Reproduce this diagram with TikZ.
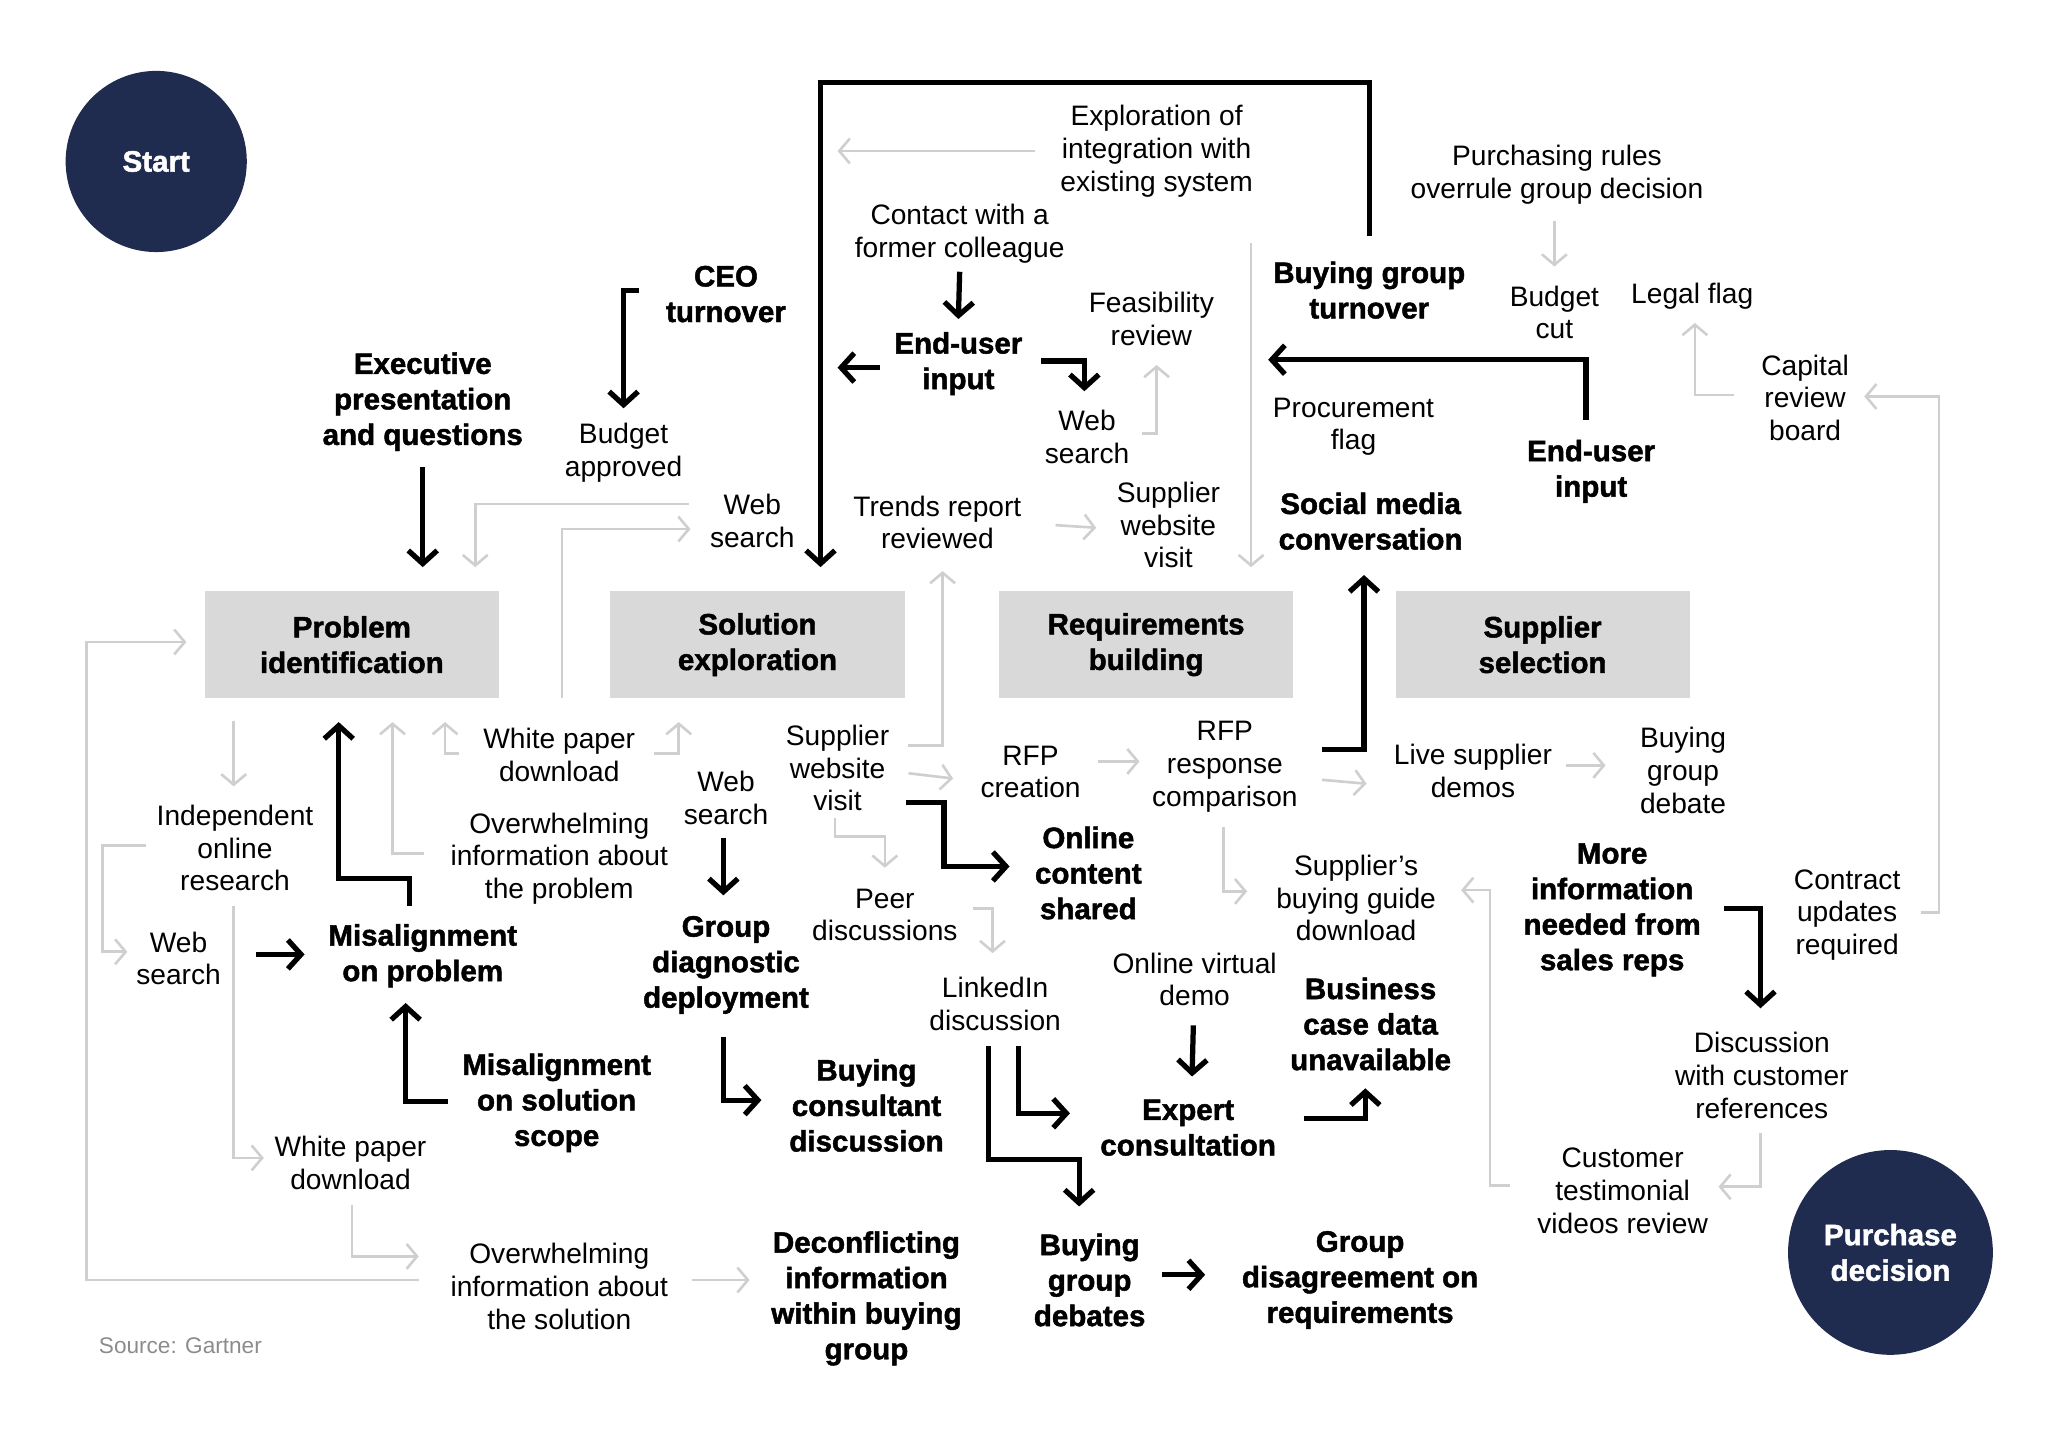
\documentclass[tikz,border=0pt]{standalone}
\usepackage{fontspec}
\setmainfont{Liberation Sans}[BoldFeatures={FakeBold=1.6}]
\usetikzlibrary{calc,positioning,arrows.meta}
\definecolor{navy}{HTML}{1F2C4F}
\definecolor{boxgray}{HTML}{D9D9D9}
\definecolor{linegray}{HTML}{CFCFCF}
\definecolor{srcgray}{HTML}{8C8C8C}
\newcommand\txtreg{\fontsize{12.2}{14.2}\selectfont}
\newcommand\txtbold{\fontsize{12.8}{15.4}\selectfont\bfseries}
\tikzset{
  note/.style={font=\txtreg, align=center, inner sep=0pt},
  event/.style={font=\txtbold, align=center, inner sep=0pt},
  stage/.style={fill=boxgray, minimum width=44.8mm, minimum height=16.4mm, font=\txtbold, align=center},
  terminal/.style={circle, fill=navy, text=white, font=\txtbold, align=center, inner sep=0pt},
  blk/.style={line width=0.8mm, line join=miter, -{Straight Barb[length=2mm,width=4.4mm]}},
  gry/.style={draw=linegray, line width=0.4mm, -{Straight Barb[length=1.6mm,width=3.8mm]}}
}
\begin{document}
\begin{tikzpicture}[x=0.2mm,y=-0.2mm]
\useasboundingbox (0,0) rectangle (1560,1088);
% start and end of the journey
\node[terminal, minimum size=27.6mm] (start) at (119,123) {Start};
\node[terminal, minimum size=31.2mm] (purch) at (1440,954) {Purchase\\decision};
% the four stages
\node[stage] (probid) at (268,491) {Problem\\identification};
\node[stage] (solex) at (577,491) {Solution\\exploration};
\node[stage] (reqb) at (873,491) {Requirements\\building};
\node[stage] (supsel) at (1175,491) {Supplier\\selection};
% upper band
\node[note] (explint) at (881,115) {Exploration of\\integration with\\existing system};
\node[note] (contact) at (731,178) {Contact with a\\former colleague};
\node[event] (eu1) at (730,277) {End-user\\input};
\node[note] (feas) at (877,243) {Feasibility\\review};
\node[note] (web1) at (828,333) {Web\\search};
\node[event] (bgturn) at (1043,221) {Buying group\\turnover};
\node[note] (rules) at (1186,133) {Purchasing rules\\overrule group decision};
\node[note] (bcut) at (1184,238) {Budget\\cut};
\node[note] (legal) at (1289,226) {Legal flag};
\node[note] (capital) at (1375,303) {Capital\\review\\board};
\node[note] (procure) at (1031,325) {Procurement\\flag};
\node[event] (eu2) at (1212,359) {End-user\\input};
\node[event] (social) at (1044,397) {Social media\\conversation};
\node[event] (ceo) at (553,224) {CEO\\turnover};
\node[note] (bapproved) at (475,345) {Budget\\approved};
\node[event] (exec) at (322,306) {Executive\\presentation\\and questions};
\node[note] (web2) at (573,397) {Web\\search};
\node[note] (trends) at (714,398) {Trends report\\reviewed};
\node[note] (swv1) at (890,400) {Supplier\\website\\visit};
% lower band, left
\node[note] (indep) at (179,646) {Independent\\online\\research};
\node[note] (wp1) at (426,575) {White paper\\download};
\node[note] (overprob) at (426,654) {Overwhelming\\information about\\the problem};
\node[note] (web3) at (136,730) {Web\\search};
\node[event] (misprob) at (322,728) {Misalignment\\on problem};
\node[event] (misscope) at (424,840) {Misalignment\\on solution\\scope};
\node[note] (wp2) at (267,886) {White paper\\download};
\node[note] (oversol) at (426,980) {Overwhelming\\information about\\the solution};
\node[font=\fontsize{9.8}{12}\selectfont, text=srcgray, anchor=west, inner sep=0pt] (source) at (75,1025) {Source: Gartner};
% lower band, middle
\node[note] (web4) at (553,608) {Web\\search};
\node[event] (gdd) at (553,735) {Group\\diagnostic\\deployment};
\node[event] (bcd) at (660,842) {Buying\\consultant\\discussion};
\node[note] (swv2) at (638,585) {Supplier\\website\\visit};
\node[note] (peer) at (674,697) {Peer\\discussions};
\node[note] (linked) at (758,765) {LinkedIn\\discussion};
\node[note] (rfpc) at (785,588) {RFP\\creation};
\node[note] (rfpr) at (933,584) {RFP\\response\\comparison};
\node[event] (ocs) at (829,665) {Online\\content\\shared};
\node[note] (sbg) at (1033,684) {Supplier’s\\buying guide\\download};
\node[note] (ovd) at (910,746) {Online virtual\\demo};
\node[event] (expert) at (905,859) {Expert\\consultation};
\node[event] (bcdu) at (1044,780) {Business\\case data\\unavailable};
\node[event] (decon) at (660,989) {Deconflicting\\information\\within buying\\group};
\node[event] (bgd) at (830,975) {Buying\\group\\debates};
\node[event] (gdr) at (1036,975) {Group\\disagreement on\\requirements};
% lower band, right
\node[note] (lsd) at (1122,587) {Live supplier\\demos};
\node[note] (bgdeb) at (1282,587) {Buying\\group\\debate};
\node[event] (moreinfo) at (1228,693) {More\\information\\needed from\\sales reps};
\node[note] (contract) at (1407,697) {Contract\\updates\\required};
\node[note] (dcr) at (1342,819) {Discussion\\with customer\\references};
\node[note] (ctv) at (1236,907) {Customer\\testimonial\\videos review};
% black paths, upper band
\draw[blk] ($(bgturn)+(0,-41)$) -- ++(0,-117) -| ($(solex)+(48,-59)$);
\draw[blk] ($(contact)+(0,29)$) -- ($(eu1)+(0,-34)$);
\draw[blk] ($(eu1)+(-60,3)$) -- ++(-32,0);
\draw[blk] ($(eu1)+(63,-2)$) -- ++(33,0) -- ++(0,23);
\draw[blk] ($(eu2)+(-4,-39)$) |- ($(bgturn)+(-77,53)$);
\draw[blk] ($(ceo)+(-66,-3)$) -| ($(bapproved)+(0,-34)$);
\draw[blk] ($(exec)+(0,50)$) -- ++(0,76);
% gray paths, upper band
\draw[gry] ($(explint)+(-93,0)$) -- ++(-150,0);
\draw[gry] ($(feas)+(-7,87)$) -- ++(11,0) -- ++(0,-52);
\draw[gry] ($(reqb)+(80,-306)$) -- ($(reqb)+(80,-59)$);
\draw[gry] ($(rules)+(-2,35)$) -- ($(bcut)+(0,-35)$);
\draw[gry] ($(capital)+(-54,-2)$) -| ($(legal)+(2,20)$);
\draw[gry] ($(contract)+(56,-2)$) -- ++(14,0) |- ($(capital)+(45,-1)$);
\draw[gry] ($(web2)+(-48,-13)$) -| ($(probid)+(94,-59)$);
\draw[gry] ($(wp1)+(2,-43)$) |- ($(web2)+(-47,6)$);
\draw[gry] ($(trends)+(90,2)$) -- ($(swv1)+(-55,2)$);
% left band
\draw[gry] ($(indep)+(-1,-97)$) -- ++(0,50);
\draw[blk] ($(misprob)+(-10,-38)$) -- ++(0,-21) -| ($(probid)+(-10,59)$);
\draw[gry] ($(overprob)+(-103,-4)$) -| ($(probid)+(31,59)$);
\draw[gry] ($(wp1)+(-76,-1)$) -| ($(probid)+(71,59)$);
\draw[gry] ($(wp1)+(72,-1)$) -| ($(solex)+(-60,59)$);
\draw[gry] ($(indep)+(-68,-2)$) -- ++(-33,0) |- ($(web3)+(-39,-5)$);
\draw[gry] ($(oversol)+(-107,-5)$) -- ++(-253,0) |- ($(probid)+(-126,-2)$);
\draw[gry] ($(indep)+(-1,44)$) |- ($(wp2)+(-66,-4)$);
\draw[blk] ($(web3)+(59,-3)$) -- ($(misprob)+(-90,-1)$);
\draw[blk] ($(misscope)+(-83,-1)$) -| ($(misprob)+(-13,36)$);
\draw[gry] ($(wp2)+(1,32)$) |- ($(oversol)+(-107,-23)$);
\draw[gry] ($(oversol)+(101,-5)$) -- ($(decon)+(-89,-14)$);
% middle band
\draw[blk] ($(web4)+(-2,30)$) -- ($(gdd)+(-2,-53)$);
\draw[blk] ($(gdd)+(-2,55)$) |- ($(bcd)+(-80,-4)$);
\draw[gry] ($(swv2)+(54,-17)$) -| ($(trends)+(4,37)$);
\draw[gry] ($(swv2)+(54,4)$) -- ($(rfpc)+(-59,5)$);
\draw[blk] ($(swv2)+(52,26)$) -- ++(29,0) |- ($(ocs)+(-60,-5)$);
\draw[gry] ($(swv2)+(-2,38)$) -- ++(0,14) -| ($(peer)+(0,-36)$);
\draw[gry] ($(peer)+(67,-5)$) -| ($(linked)+(-2,-39)$);
\draw[gry] ($(rfpc)+(51,-8)$) -- ($(rfpr)+(-65,-4)$);
\draw[gry] ($(rfpr)+(-1,46)$) |- ($(sbg)+(-83,-5)$);
\draw[blk] ($(linked)+(-5,32)$) -- ++(0,86) -| ($(bgd)+(-8,-56)$);
\draw[blk] ($(linked)+(18,32)$) |- ($(expert)+(-90,-11)$);
\draw[blk] ($(ovd)+(-1,35)$) -- ($(expert)+(3,-39)$);
\draw[blk] ($(expert)+(88,-7)$) -| ($(bcdu)+(-4,49)$);
\draw[blk] ($(bgd)+(55,-4)$) -- ($(gdr)+(-118,-4)$);
% right band
\draw[blk] ($(rfpr)+(74,-13)$) -| ($(social)+(-5,41)$);
\draw[gry] ($(rfpr)+(74,10)$) -- ($(lsd)+(-81,10)$);
\draw[gry] ($(lsd)+(71,-4)$) -- ($(bgdeb)+(-59,-4)$);
\draw[gry] ($(ctv)+(-86,-4)$) -- ++(-15,0) |- ($(sbg)+(80,-6)$);
\draw[blk] ($(moreinfo)+(85,-1)$) -| ($(dcr)+(-1,-51)$);
\draw[gry] ($(dcr)+(-1,44)$) |- ($(ctv)+(73,-3)$);
\end{tikzpicture}
\end{document}
